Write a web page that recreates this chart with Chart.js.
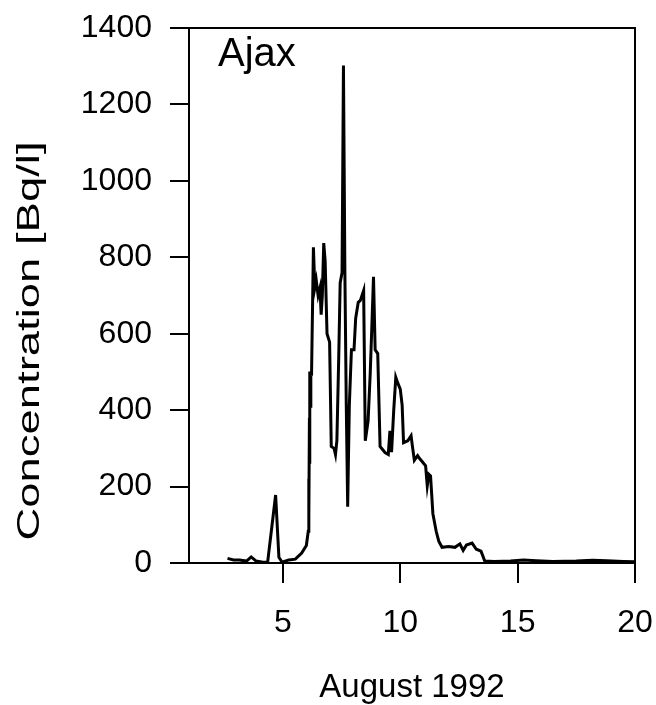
<!DOCTYPE html>
<html>
<head>
<meta charset="utf-8">
<script src="https://cdn.jsdelivr.net/npm/chart.js@4/dist/chart.umd.min.js"></script>
<style>
  html, body { margin: 0; padding: 0; background: #fff; }
  #wrap { width: 656px; height: 705px; }
</style>
</head>
<body>
<div id="wrap"><canvas id="c" width="656" height="705"></canvas></div>
<script>
// day of August 1992
var days = [2.64, 2.9, 3.15, 3.45, 3.65, 3.86, 4.15, 4.35, 4.69, 4.83, 4.97, 5.25, 5.53, 5.8, 6.0,
	6.08, 6.1, 6.11, 6.13, 6.14, 6.15, 6.17, 6.19, 6.22, 6.3, 6.36, 6.42, 6.5, 6.58, 6.63, 6.68, 6.74, 6.8, 6.88, 6.99,
	7.06, 7.18, 7.24, 7.3, 7.38, 7.44, 7.52, 7.58, 7.64, 7.7, 7.76, 7.83, 7.92,
	8.03, 8.1, 8.21, 8.3, 8.37, 8.44, 8.51, 8.63, 8.72, 8.79, 8.86, 8.93,
	9.04, 9.14, 9.35, 9.49, 9.56, 9.63, 9.72, 9.81, 9.9,
	10.0, 10.08, 10.14, 10.32, 10.46, 10.53, 10.6, 10.74, 10.84, 10.94,
	11.08, 11.15, 11.22, 11.29, 11.39, 11.53, 11.64, 11.78,
	12.06, 12.33, 12.54, 12.68, 12.82, 13.06, 13.24, 13.44, 13.6,
	14.0, 14.7, 15.25, 15.8, 16.5, 17.5, 18.2, 18.8, 19.5, 20.0];
// concentration [Bq/l]
var conc = [12, 8, 8, 5, 16, 5, 2, 2, 178, 15, 2, 8, 10, 26, 46,
	83, 220, 120, 380, 260, 501, 410, 500, 490, 826, 720, 740, 700, 720, 650, 700, 837, 790, 600, 578,
	305, 300, 284, 320, 542, 733, 760, 1302, 764, 413, 147, 413, 558,
	558, 640, 682, 687, 700, 713, 320, 372, 496, 620, 749, 558,
	548, 305, 289, 284, 346, 290, 398, 486, 470,
	455, 413, 315, 320, 333, 300, 269, 281, 272, 265,
	254, 202, 232, 228, 129, 83, 57, 41,
	43, 41, 50, 33, 47, 52, 36, 31, 5,
	4, 5, 8, 6, 4, 5, 7, 6, 4, 3];
var xTicks = [5, 10, 15, 20];
var yTicks = [0, 200, 400, 600, 800, 1000, 1200, 1400];
var yTitle = 'Concentration [Bq/l]';
var panelLabel = 'Ajax';

var FONT = 'Liberation Sans, Arial, sans-serif';

var framePlugin = {
	id: 'frame',
	afterDraw: function(chart) {
		var ctx = chart.ctx, a = chart.chartArea;
		ctx.save();
		ctx.strokeStyle = '#000';
		ctx.lineWidth = 2;
		ctx.strokeRect(a.left, a.top, a.right - a.left, a.bottom - a.top);
		ctx.fillStyle = '#000';
		ctx.font = '40px ' + FONT;
		ctx.textBaseline = 'alphabetic';
		ctx.fillText(panelLabel, 218, 66);
		// y title, stretched along its length like the scanned original
		ctx.translate(30, 341);
		ctx.rotate(-Math.PI / 2);
		ctx.scale(1.42, 1);
		ctx.font = '32px ' + FONT;
		ctx.textAlign = 'center';
		ctx.textBaseline = 'middle';
		ctx.fillText(yTitle, 0, 0);
		ctx.restore();
	}
};

new Chart(document.getElementById('c'), {
	type: 'line',
	data: {
		datasets: [{
			data: days.map(function(d, i) { return {x: d, y: conc[i]}; }),
			borderColor: '#000',
			borderWidth: 3,
			pointRadius: 0,
			tension: 0,
			fill: false
		}]
	},
	options: {
		responsive: false,
		animation: false,
		layout: { padding: { top: 28, right: 21, left: 0, bottom: 0 } },
		plugins: { legend: { display: false }, tooltip: { enabled: false } },
		scales: {
			x: {
				type: 'linear',
				min: 1,
				max: 20,
				afterBuildTicks: function(scale) {
					scale.ticks = xTicks.map(function(v) { return {value: v}; });
				},
				afterFit: function(scale) {
					scale.height = 142;
					scale.paddingLeft = 0;
					scale.paddingRight = 0;
				},
				grid: { drawOnChartArea: false, drawTicks: true, tickLength: 20, color: '#000', lineWidth: 2 },
				border: { display: true, color: '#000', width: 2 },
				ticks: { color: '#000', font: { family: FONT, size: 32 }, padding: 21, maxRotation: 0,
					callback: function(v) { return String(v); } },
				title: { display: true, text: 'August 1992', color: '#000',
					font: { family: FONT, size: 33, lineHeight: 1 }, padding: { top: 0, bottom: 1 } }
			},
			y: {
				min: 0,
				max: 1400,
				afterBuildTicks: function(scale) {
					scale.ticks = yTicks.map(function(v) { return {value: v}; });
				},
				afterFit: function(scale) {
					scale.width = 189;
					scale.paddingTop = 0;
					scale.paddingBottom = 0;
				},
				grid: { drawOnChartArea: false, drawTicks: true, tickLength: 19, color: '#000', lineWidth: 2 },
				border: { display: true, color: '#000', width: 2 },
				ticks: { color: '#000', font: { family: FONT, size: 32 }, padding: 18,
					callback: function(v) { return String(v); } }
			}
		}
	},
	plugins: [framePlugin]
});
</script>
</body>
</html>
